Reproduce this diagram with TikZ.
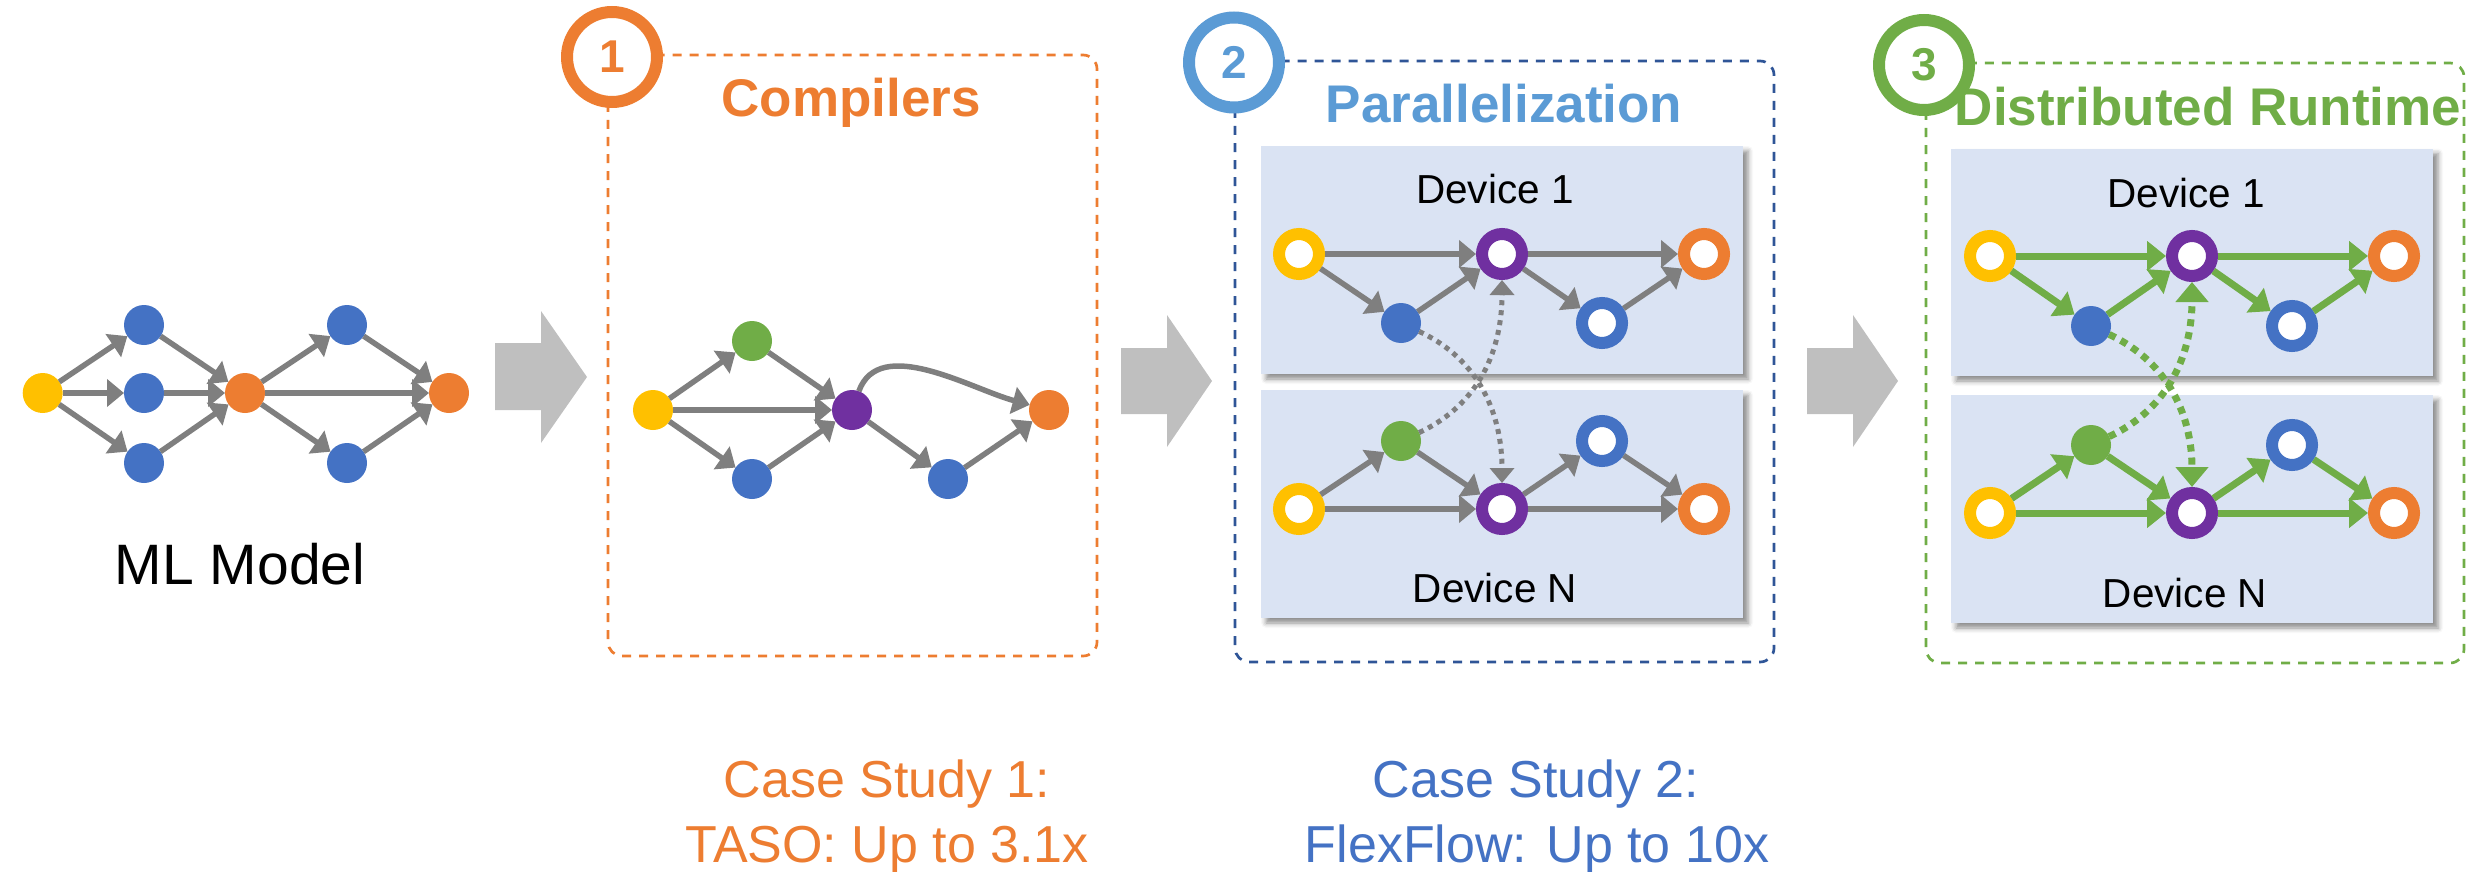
\documentclass[tikz,border=0pt]{standalone}
\usepackage{fontspec}
\setmainfont{Liberation Sans}
\usetikzlibrary{arrows.meta,shadows.blur}

\definecolor{cora}{HTML}{ED7D31}
\definecolor{cyel}{HTML}{FFC000}
\definecolor{cblu}{HTML}{4472C4}
\definecolor{cgrn}{HTML}{70AD47}
\definecolor{cpur}{HTML}{7030A0}
\definecolor{clblu}{HTML}{5B9BD5}
\definecolor{cdblu}{HTML}{2F5597}
\definecolor{cpanel}{HTML}{DAE3F3}
\definecolor{cedge}{HTML}{7F7F7F}
\definecolor{cblock}{HTML}{BFBFBF}

\begin{document}
\begin{tikzpicture}[x=1pt,y=1pt,
  dot/.style={circle,inner sep=0pt,outer sep=0pt,minimum size=40pt,fill=#1},
  ring/.style={circle,inner sep=0pt,minimum size=40pt,line width=12pt,outer sep=6pt,draw=#1,fill=white},
  garrow/.style={draw=cedge,line width=5.5pt,-{Triangle[length=17pt,width=27pt]}},
  grarrow/.style={draw=cgrn,line width=7pt,-{Triangle[length=19pt,width=29pt]}},
  gdotted/.style={draw=cedge,line width=5pt,dash pattern=on 5pt off 5pt,-{Triangle[length=15pt,width=24pt]}},
  grdotted/.style={draw=cgrn,line width=7pt,dash pattern=on 7pt off 6pt,-{Triangle[length=20pt,width=32pt]}},
  stagebox/.style={line width=2.7pt,dash pattern=on 9pt off 8pt,rounded corners=14pt},
  badge/.style={circle,inner sep=0pt,minimum size=90pt,line width=12pt,fill=white,draw=#1,text=#1,
    font=\fontsize{46}{46}\selectfont\bfseries},
  panel/.style={fill=cpanel,blur shadow={shadow xshift=5pt,shadow yshift=-5pt,shadow blur radius=5pt,shadow opacity=45}},
  blockarrow/.style={fill=cblock},
  title/.style={anchor=base,font=\fontsize{53}{64}\selectfont\bfseries},
  devlabel/.style={anchor=base,font=\fontsize{40.5}{48}\selectfont},
  casetext/.style={anchor=base,font=\fontsize{52}{64}\selectfont},
]
\useasboundingbox (0,0) rectangle (2488,-872);

% ---------- ML model ----------
\node[dot=cyel] (my)  at (42.7,-393) {};
\node[dot=cblu] (mb1) at (144,-325) {};
\node[dot=cblu] (mb2) at (144,-393) {};
\node[dot=cblu] (mb3) at (144,-463) {};
\node[dot=cora] (mo1) at (245,-393) {};
\node[dot=cblu] (mb4) at (347,-325) {};
\node[dot=cblu] (mb5) at (347,-463) {};
\node[dot=cora] (mo2) at (449,-393) {};
\foreach \a/\b in {my/mb1,my/mb2,my/mb3,mb1/mo1,mb2/mo1,mb3/mo1,mo1/mb4,mo1/mb5,mo1/mo2,mb4/mo2,mb5/mo2}
  \draw[garrow] (\a) -- (\b);
\node[anchor=base,font=\fontsize{57}{68}\selectfont] (mltext) at (240,-584) {ML Model};

% ---------- block arrows ----------
\fill[blockarrow] (495,-343) -- (541,-343) -- (541,-311) -- (587,-377) -- (541,-443) -- (541,-410) -- (495,-410) -- cycle;
\fill[blockarrow] (1121,-348) -- (1167,-348) -- (1167,-315) -- (1212,-381) -- (1167,-447) -- (1167,-414) -- (1121,-414) -- cycle;
\fill[blockarrow] (1807,-348) -- (1853,-348) -- (1853,-315) -- (1898,-381) -- (1853,-447) -- (1853,-414) -- (1807,-414) -- cycle;

% ---------- stage 1: compilers ----------
\draw[stagebox,draw=cora] (608,-55) rectangle (1097,-656);
\node[badge=cora] (c1) at (612,-57) {1};
\node[title,text=cora] (t1) at (851,-117) {Compilers};
\node[dot=cyel] (cy) at (653,-410) {};
\node[dot=cgrn] (cg) at (752,-341) {};
\node[dot=cblu] (cb) at (752,-479) {};
\node[dot=cpur] (cp) at (852,-410) {};
\node[dot=cblu] (cb2) at (948,-479) {};
\node[dot=cora] (co) at (1049,-410) {};
\foreach \a/\b in {cy/cg,cy/cb,cy/cp,cg/cp,cb/cp,cp/cb2,cb2/co}
  \draw[garrow] (\a) -- (\b);
\draw[garrow] (cp) to[out=70,in=165,looseness=0.9] (co);

% ---------- stage 2: parallelization ----------
\draw[stagebox,draw=cdblu] (1235,-61) rectangle (1774,-662);
\node[badge=clblu] (c2) at (1234,-62.5) {2};
\node[title,text=clblu] (t2) at (1504,-122) {Parallelization};
\path[panel] (1261,-146) rectangle (1743,-374);
\path[panel] (1261,-390) rectangle (1743,-618);
\node[devlabel] (d21) at (1495,-203) {Device 1};
\node[devlabel] (d2n) at (1495,-602) {Device N};
\node[ring=cyel] (a1) at (1299,-254) {};
\node[ring=cpur] (p1) at (1502,-254) {};
\node[ring=cora] (o1) at (1704,-254) {};
\node[dot=cblu]  (b1) at (1401,-323) {};
\node[ring=cblu] (r1) at (1602,-323) {};
\node[ring=cyel] (an) at (1299,-509) {};
\node[ring=cpur] (pn) at (1502,-509) {};
\node[ring=cora] (on) at (1704,-509) {};
\node[dot=cgrn]  (gn) at (1401,-441) {};
\node[ring=cblu] (rn) at (1602,-441) {};
\foreach \a/\b in {a1/p1,a1/b1,b1/p1,p1/o1,p1/r1,r1/o1,an/gn,an/pn,gn/pn,pn/rn,rn/on,pn/on}
  \draw[garrow] (\a) -- (\b);
\draw[gdotted] (b1) to[out=-25,in=90] (pn);
\draw[gdotted] (gn) to[out=25,in=-90] (p1);

% ---------- stage 3: distributed runtime ----------
\draw[stagebox,draw=cgrn] (1926,-63) rectangle (2464,-663);
\node[badge=cgrn] (c3) at (1924,-65) {3};
\node[title,text=cgrn] (t3) at (2208,-126) {Distributed Runtime};
\path[panel] (1951,-148.5) rectangle (2433,-376);
\path[panel] (1951,-395) rectangle (2433,-623);
\node[devlabel] (d31) at (2186,-207) {Device 1};
\node[devlabel] (d3n) at (2185,-607) {Device N};
\node[ring=cyel] (A1) at (1990,-256) {};
\node[ring=cpur] (P1) at (2192,-256) {};
\node[ring=cora] (O1) at (2394,-256) {};
\node[dot=cblu]  (B1) at (2091,-326) {};
\node[ring=cblu] (R1) at (2292,-326) {};
\node[ring=cyel] (AN) at (1990,-513) {};
\node[ring=cpur] (PN) at (2192,-513) {};
\node[ring=cora] (ON) at (2394,-513) {};
\node[dot=cgrn]  (GN) at (2091,-445) {};
\node[ring=cblu] (RN) at (2292,-445) {};
\foreach \a/\b in {A1/P1,A1/B1,B1/P1,P1/O1,P1/R1,R1/O1,AN/GN,AN/PN,GN/PN,PN/RN,RN/ON,PN/ON}
  \draw[grarrow] (\a) -- (\b);
\draw[grdotted] (B1) to[out=-25,in=90] (PN);
\draw[grdotted] (GN) to[out=25,in=-90] (P1);

% ---------- case studies ----------
\node[casetext,text=cora] (cs1a) at (887,-797) {Case Study 1:};
\node[casetext,text=cora] (cs1b) at (887,-862) {TASO: Up to 3.1x};
\node[casetext,text=cblu] (cs2a) at (1536,-797) {Case Study 2:};
\node[casetext,text=cblu] (cs2b) at (1537,-862) {FlexFlow: Up to 10x};
\end{tikzpicture}
\end{document}
